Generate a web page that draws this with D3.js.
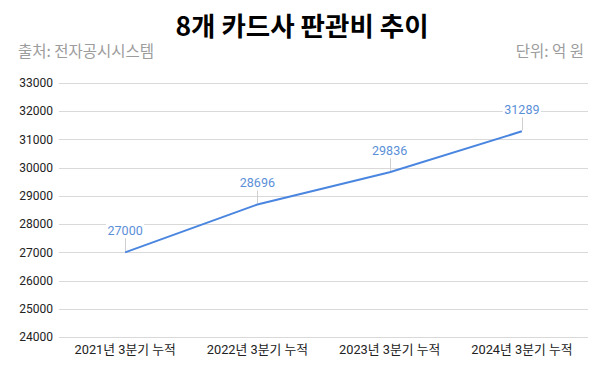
<!DOCTYPE html>
<meta charset="utf-8">
<style>
body { margin: 0; background: #fff; }
svg { display: block; font-family: "Roboto", "Noto Sans CJK KR", sans-serif; }
.grid line { stroke: #d9d9d9; stroke-width: 1px; }
.tick-label { font-size: 12px; fill: #222; }
.xtick { font-size: 12.8px; }
.value-label { font-size: 12.5px; fill: #5b8fd8; text-anchor: middle; }
.leader { stroke: #d0d0d0; stroke-width: 1px; }
</style>
<svg width="600" height="373"></svg>
<script src="https://cdn.jsdelivr.net/npm/d3@7"></script>
<script>

var categories = ["2021년 3분기 누적", "2022년 3분기 누적", "2023년 3분기 누적", "2024년 3분기 누적"],
    values = [27000, 28696, 29836, 31289],
    yTicks = [24000, 25000, 26000, 27000, 28000, 29000, 30000, 31000, 32000, 33000];

var svg = d3.select("svg"),
    mLeft = 59, mRight = 588, mTop = 83, mBottom = 337;

var x = d3.scaleBand().domain(categories).range([mLeft, mRight]).padding(0),
    y = d3.scaleLinear().domain([24000, 33000]).range([mBottom, mTop]);

// titles
svg.append("text")
    .attr("x", 302).attr("y", 36)
    .attr("text-anchor", "middle")
    .style("font-family", "'Noto Sans CJK KR', sans-serif")
    .style("font-size", "26.5px").style("font-weight", "bold").style("fill", "#000")
    .text("8개 카드사 판관비 추이");

svg.append("text")
    .attr("x", 18).attr("y", 57)
    .style("font-family", "'Noto Sans CJK KR', sans-serif")
    .style("font-size", "15.5px").style("fill", "#9c9c9c")
    .text("출처: 전자공시시스템");

svg.append("text")
    .attr("x", 584).attr("y", 57)
    .attr("text-anchor", "end")
    .style("font-family", "'Noto Sans CJK KR', sans-serif")
    .style("font-size", "15.5px").style("fill", "#9c9c9c")
    .text("단위: 억 원");

// grid + y labels
var grid = svg.append("g").attr("class", "grid");
grid.selectAll("line")
    .data(yTicks)
  .enter().append("line")
    .attr("x1", mLeft).attr("x2", mRight)
    .attr("y1", function(d) { return Math.round(y(d)) + 0.5; })
    .attr("y2", function(d) { return Math.round(y(d)) + 0.5; });

svg.selectAll(".ytick")
    .data(yTicks)
  .enter().append("text")
    .attr("class", "tick-label ytick")
    .attr("x", 53)
    .attr("y", function(d) { return y(d); })
    .attr("dy", "0.35em")
    .attr("text-anchor", "end")
    .text(function(d) { return d; });

// x labels
svg.selectAll(".xtick")
    .data(categories)
  .enter().append("text")
    .attr("class", "tick-label xtick")
    .attr("x", function(d) { return x(d) + x.bandwidth() / 2; })
    .attr("y", 354)
    .attr("text-anchor", "middle")
    .text(function(d) { return d; });

var pts = categories.map(function(c, i) { return {cat: c, value: values[i]}; });
function cx(d) { return x(d.cat) + x.bandwidth() / 2; }

// leader lines
svg.selectAll(".leader")
    .data(pts)
  .enter().append("line")
    .attr("class", "leader")
    .attr("x1", function(d) { return Math.round(cx(d)) + 0.5; })
    .attr("x2", function(d) { return Math.round(cx(d)) + 0.5; })
    .attr("y1", function(d) { return y(d.value) - 14; })
    .attr("y2", function(d) { return y(d.value) - 1; });

// line
svg.append("path")
    .datum(pts)
    .attr("fill", "none")
    .attr("stroke", "#4a86e0")
    .attr("stroke-width", 2)
    .attr("d", d3.line().x(cx).y(function(d) { return y(d.value); }));

// value labels with white background
var lab = svg.selectAll(".vlab")
    .data(pts)
  .enter().append("g")
    .attr("class", "vlab")
    .attr("transform", function(d) { return "translate(" + cx(d) + "," + (y(d.value) - 22) + ")"; });

lab.append("rect")
    .attr("x", -19).attr("y", -8)
    .attr("width", 38).attr("height", 15)
    .attr("fill", "#fff");

lab.append("text")
    .attr("class", "value-label")
    .attr("dy", "0.35em")
    .text(function(d) { return d.value; });

</script>
